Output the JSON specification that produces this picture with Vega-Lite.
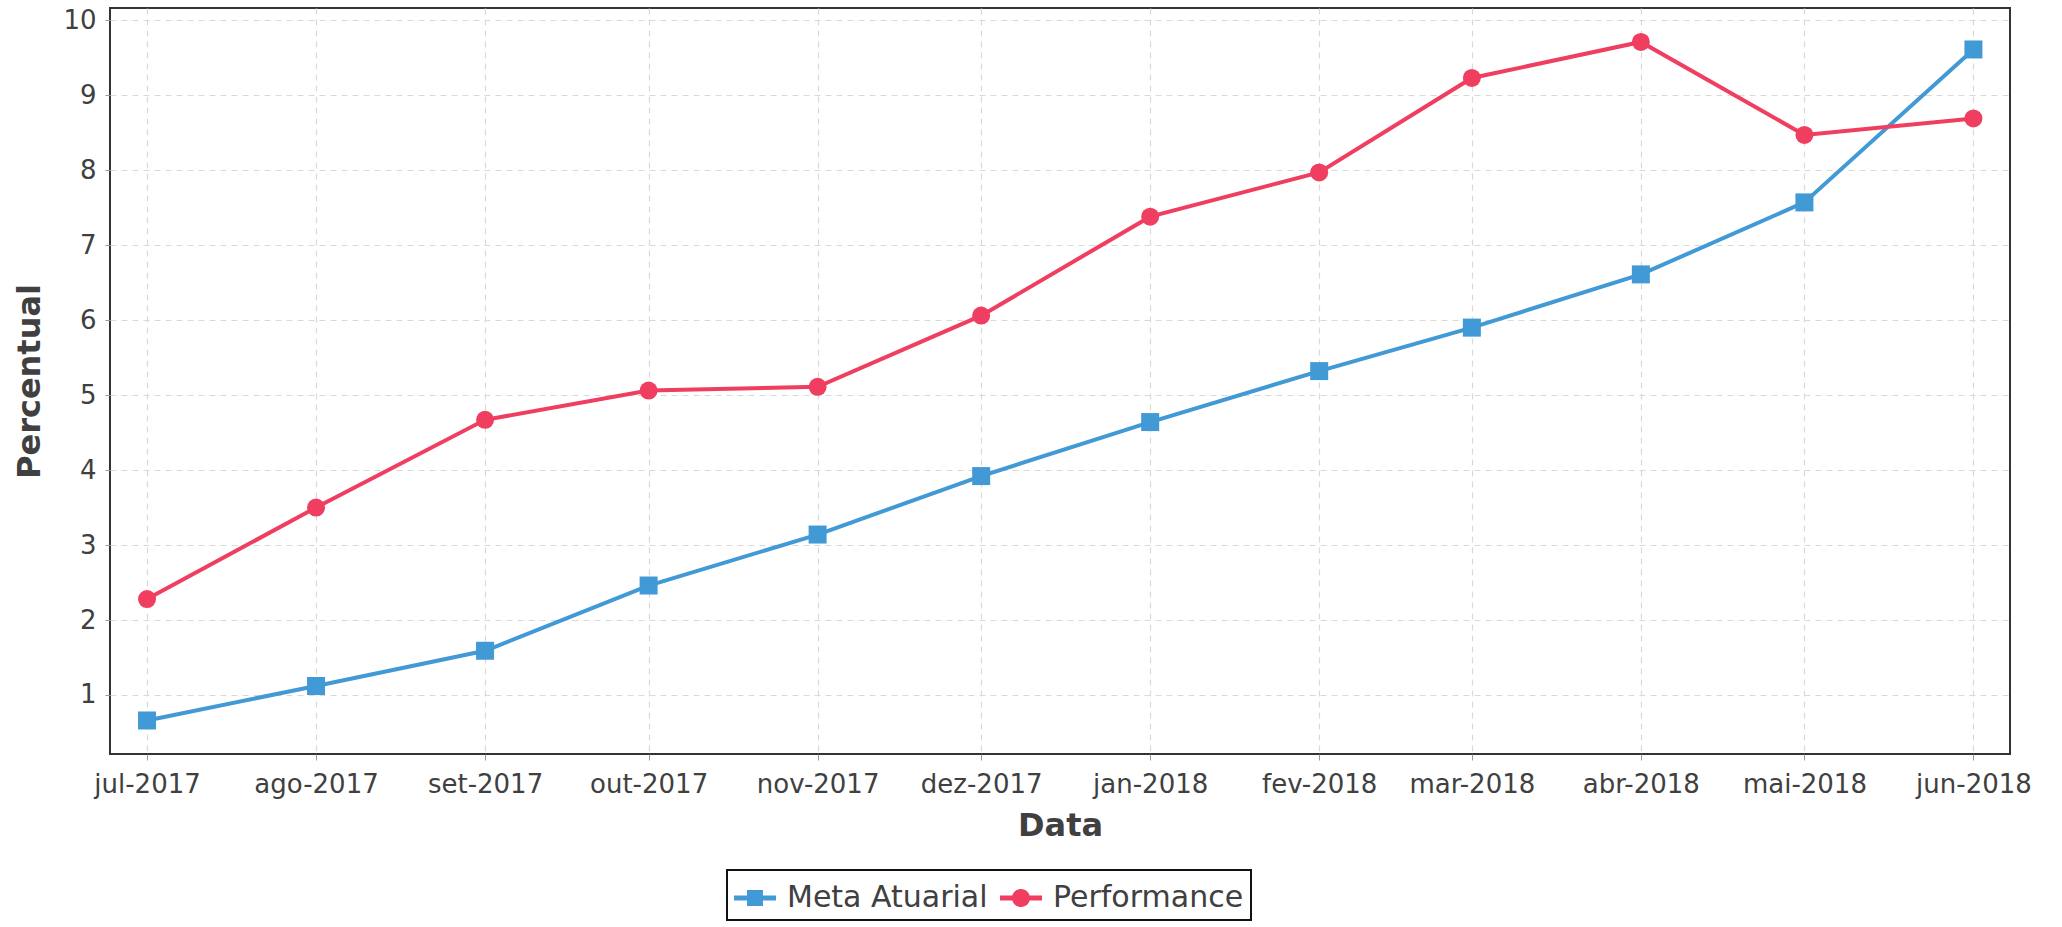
{
  "$schema": "https://vega.github.io/schema/vega-lite/v6.json",
  "width": 1900,
  "height": 746,
  "autosize": {"type": "none"},
  "padding": {"left": 110, "top": 8, "right": 52, "bottom": 173},
  "background": "white",
  "config": {
    "view": {"stroke": "#333333", "strokeWidth": 2},
    "font": "DejaVu Sans"
  },
  "data": {
    "values": [
      {"Data": "2017-07-01", "Serie": "Meta Atuarial", "Percentual": 0.66},
      {"Data": "2017-08-01", "Serie": "Meta Atuarial", "Percentual": 1.12},
      {"Data": "2017-09-01", "Serie": "Meta Atuarial", "Percentual": 1.59},
      {"Data": "2017-10-01", "Serie": "Meta Atuarial", "Percentual": 2.46},
      {"Data": "2017-11-01", "Serie": "Meta Atuarial", "Percentual": 3.14},
      {"Data": "2017-12-01", "Serie": "Meta Atuarial", "Percentual": 3.92},
      {"Data": "2018-01-01", "Serie": "Meta Atuarial", "Percentual": 4.64},
      {"Data": "2018-02-01", "Serie": "Meta Atuarial", "Percentual": 5.32},
      {"Data": "2018-03-01", "Serie": "Meta Atuarial", "Percentual": 5.90},
      {"Data": "2018-04-01", "Serie": "Meta Atuarial", "Percentual": 6.61},
      {"Data": "2018-05-01", "Serie": "Meta Atuarial", "Percentual": 7.57},
      {"Data": "2018-06-01", "Serie": "Meta Atuarial", "Percentual": 9.61},
      {"Data": "2017-07-01", "Serie": "Performance", "Percentual": 2.28},
      {"Data": "2017-08-01", "Serie": "Performance", "Percentual": 3.50},
      {"Data": "2017-09-01", "Serie": "Performance", "Percentual": 4.67},
      {"Data": "2017-10-01", "Serie": "Performance", "Percentual": 5.06},
      {"Data": "2017-11-01", "Serie": "Performance", "Percentual": 5.11},
      {"Data": "2017-12-01", "Serie": "Performance", "Percentual": 6.06},
      {"Data": "2018-01-01", "Serie": "Performance", "Percentual": 7.38},
      {"Data": "2018-02-01", "Serie": "Performance", "Percentual": 7.97},
      {"Data": "2018-03-01", "Serie": "Performance", "Percentual": 9.23},
      {"Data": "2018-04-01", "Serie": "Performance", "Percentual": 9.71},
      {"Data": "2018-05-01", "Serie": "Performance", "Percentual": 8.47},
      {"Data": "2018-06-01", "Serie": "Performance", "Percentual": 8.69}
    ]
  },
  "encoding": {
    "x": {
      "field": "Data",
      "type": "temporal",
      "title": "Data",
      "scale": {
        "type": "utc",
        "nice": false,
        "domain": [
          {"year": 2017, "month": 6, "date": 24, "hours": 5, "utc": true},
          {"year": 2018, "month": 6, "date": 7, "hours": 17, "utc": true}
        ]
      },
      "axis": {
        "values": [
          {"year": 2017, "month": 7, "date": 1, "utc": true},
          {"year": 2017, "month": 8, "date": 1, "utc": true},
          {"year": 2017, "month": 9, "date": 1, "utc": true},
          {"year": 2017, "month": 10, "date": 1, "utc": true},
          {"year": 2017, "month": 11, "date": 1, "utc": true},
          {"year": 2017, "month": 12, "date": 1, "utc": true},
          {"year": 2018, "month": 1, "date": 1, "utc": true},
          {"year": 2018, "month": 2, "date": 1, "utc": true},
          {"year": 2018, "month": 3, "date": 1, "utc": true},
          {"year": 2018, "month": 4, "date": 1, "utc": true},
          {"year": 2018, "month": 5, "date": 1, "utc": true},
          {"year": 2018, "month": 6, "date": 1, "utc": true}
        ],
        "labelExpr": "['jan','fev','mar','abr','mai','jun','jul','ago','set','out','nov','dez'][utcmonth(datum.value)] + '-' + utcyear(datum.value)",
        "labelFont": "DejaVu Sans",
        "labelFontSize": 26,
        "labelColor": "#404040",
        "labelPadding": 11,
        "labelOverlap": false,
        "labelFlush": false,
        "tickSize": 6,
        "tickColor": "#999999",
        "domain": false,
        "grid": true,
        "gridColor": "#d9d9d9",
        "gridDash": [6, 5],
        "gridWidth": 1.2,
        "titleFont": "DejaVu Sans",
        "titleFontSize": 32,
        "titleFontWeight": "bold",
        "titleColor": "#404040",
        "titlePadding": 13
      }
    },
    "y": {
      "field": "Percentual",
      "type": "quantitative",
      "title": "Percentual",
      "scale": {"domain": [0.213, 10.163], "nice": false, "zero": false},
      "axis": {
        "values": [1, 2, 3, 4, 5, 6, 7, 8, 9, 10],
        "labelFont": "DejaVu Sans",
        "labelFontSize": 26,
        "labelColor": "#404040",
        "labelPadding": 9,
        "tickSize": 5,
        "tickColor": "#999999",
        "domain": false,
        "grid": true,
        "gridColor": "#d9d9d9",
        "gridDash": [6, 5],
        "gridWidth": 1.2,
        "titleFont": "DejaVu Sans",
        "titleFontSize": 32,
        "titleFontWeight": "bold",
        "titleColor": "#404040",
        "titlePadding": 16
      }
    },
    "color": {
      "field": "Serie",
      "type": "nominal",
      "scale": {"domain": ["Meta Atuarial", "Performance"], "range": ["#4199d5", "#ef3e5f"]},
      "legend": {
        "title": null,
        "orient": "none",
        "legendX": 617,
        "legendY": 862,
        "direction": "horizontal",
        "strokeColor": "#111111",
        "padding": 7,
        "fillColor": "white",
        "symbolSize": 1764,
        "symbolStrokeWidth": 0,
        "labelFont": "DejaVu Sans",
        "labelFontSize": 30,
        "labelColor": "#404040",
        "labelOffset": 11,
        "columnPadding": 12,
        "labelLimit": 400,
        "encode": {
          "legend": {
            "update": {
              "strokeWidth": {"value": 2}
            }
          },
          "symbols": {
            "update": {
              "shape": {"signal": "datum.value === 'Meta Atuarial' ? 'M-1,-0.12L1,-0.12L1,0.12L-1,0.12Z M-0.38,-0.38L0.38,-0.38L0.38,0.38L-0.38,0.38Z' : 'M-1,-0.12L1,-0.12L1,0.12L-1,0.12Z M0.43,0A0.43,0.43 0 1,1 -0.43,0A0.43,0.43 0 1,1 0.43,0Z'"},
              "fill": {"signal": "datum.value === 'Meta Atuarial' ? '#4199d5' : '#ef3e5f'"},
              "stroke": {"value": "transparent"},
              "opacity": {"value": 1},
              "fillOpacity": {"value": 1}
            }
          }
        }
      }
    }
  },
  "layer": [
    {
      "mark": {"type": "line", "strokeWidth": 4}
    },
    {
      "transform": [{"filter": "datum.Serie === 'Meta Atuarial'"}],
      "mark": {"type": "point", "shape": "square", "filled": true, "size": 324, "opacity": 1}
    },
    {
      "transform": [{"filter": "datum.Serie === 'Performance'"}],
      "mark": {"type": "point", "shape": "circle", "filled": true, "size": 324, "opacity": 1}
    }
  ]
}
